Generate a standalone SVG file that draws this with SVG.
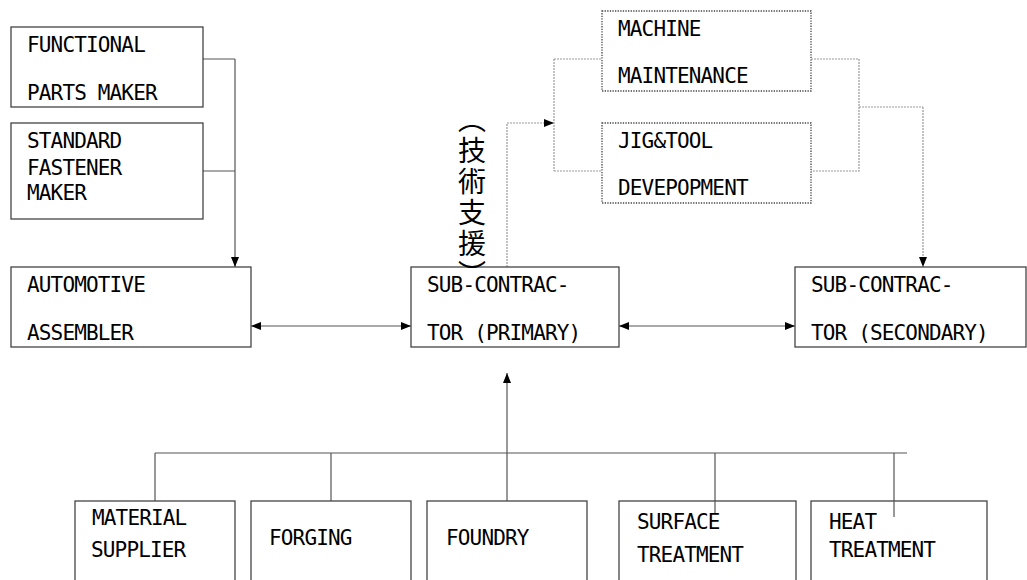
<svg xmlns="http://www.w3.org/2000/svg" width="1027" height="580" viewBox="0 0 1027 580">
<defs>
<style>
.box{fill:#fff;stroke:#444;stroke-width:1.3}
.dbox{fill:#fff;stroke:#444;stroke-width:1.3;stroke-dasharray:1.3 1.3}
.t{font-family:"DejaVu Sans Mono","Liberation Mono",monospace;font-size:21px;letter-spacing:-0.85px;fill:#000}
.ln{fill:none;stroke:#555;stroke-width:1.2}
.dl{fill:none;stroke:#999;stroke-width:1.2;stroke-dasharray:2 1}
.cjk{font-family:"Noto Sans CJK JP","Noto Sans CJK SC",sans-serif;font-size:28px;letter-spacing:3px;fill:#000}
</style>
<marker id="ah" viewBox="0 0 10 8" refX="10" refY="4" markerWidth="10" markerHeight="8" markerUnits="userSpaceOnUse" orient="auto-start-reverse">
<path d="M0,0 L10,4 L0,8 z" fill="#000"/>
</marker>
</defs>
<rect width="1027" height="580" fill="#fff"/>

<g id="connectors">
<path class="ln" d="M203,59 H235 M203,171 H235"/>
<path class="ln" d="M235,59 V267" marker-end="url(#ah)"/>
<path class="ln" d="M251,326 H411" marker-start="url(#ah)" marker-end="url(#ah)"/>
<path class="ln" d="M619,326 H795" marker-start="url(#ah)" marker-end="url(#ah)"/>
<path class="dl" d="M507,267 V123 H554" marker-end="url(#ah)"/>
<path class="dl" d="M554,59 V171 M554,59 H602 M554,171 H602"/>
<path class="dl" d="M811,59 H859 V171 H811 M859,107 H923"/>
<path class="dl" d="M923,107 V267" marker-end="url(#ah)"/>
<path class="ln" d="M507,453 V373" marker-end="url(#ah)"/>
<path class="ln" d="M155,453 H907 M155,453 V501 M331,453 V501 M507,453 V501 M715,453 V513 M894,453 V517"/>
</g>

<g id="functional">
<rect class="box" x="11" y="27" width="192" height="80"/>
<text class="t" x="27" y="52">FUNCTIONAL</text>
<text class="t" x="27" y="100">PARTS MAKER</text>
</g>
<g id="standard">
<rect class="box" x="11" y="123" width="192" height="96"/>
<text class="t" x="27" y="148">STANDARD</text>
<text class="t" x="27" y="175">FASTENER</text>
<text class="t" x="27" y="200">MAKER</text>
</g>
<g id="automotive">
<rect class="box" x="11" y="267" width="240" height="80"/>
<text class="t" x="27" y="292">AUTOMOTIVE</text>
<text class="t" x="27" y="340">ASSEMBLER</text>
</g>
<g id="primary">
<rect class="box" x="411" y="267" width="208" height="80"/>
<text class="t" x="427" y="292">SUB-CONTRAC-</text>
<text class="t" x="427" y="340">TOR (PRIMARY)</text>
</g>
<g id="secondary">
<rect class="box" x="795" y="267" width="231" height="80"/>
<text class="t" x="811" y="292">SUB-CONTRAC-</text>
<text class="t" x="811" y="340">TOR (SECONDARY)</text>
</g>
<g id="machine">
<rect class="dbox" x="602" y="11" width="209" height="80"/>
<text class="t" x="618" y="36">MACHINE</text>
<text class="t" x="618" y="83">MAINTENANCE</text>
</g>
<g id="jig">
<rect class="dbox" x="602" y="123" width="209" height="80"/>
<text class="t" x="618" y="148">JIG&amp;TOOL</text>
<text class="t" x="618" y="195">DEVEPOPMENT</text>
</g>
<g id="tech-label">
<text class="cjk" x="472" y="105" writing-mode="vertical-rl">（技術支援）</text>
</g>
<g id="material">
<rect class="box" x="75" y="501" width="160" height="90"/>
<text class="t" x="92" y="525">MATERIAL</text>
<text class="t" x="91" y="557">SUPPLIER</text>
</g>
<g id="forging">
<rect class="box" x="251" y="501" width="160" height="90"/>
<text class="t" x="269" y="545">FORGING</text>
</g>
<g id="foundry">
<rect class="box" x="427" y="501" width="160" height="90"/>
<text class="t" x="446" y="545">FOUNDRY</text>
</g>
<g id="surface">
<rect class="box" x="619" y="501" width="177" height="90"/>
<text class="t" x="637" y="529">SURFACE</text>
<text class="t" x="637" y="562">TREATMENT</text>
</g>
<g id="heat">
<rect class="box" x="811" y="501" width="176" height="90"/>
<text class="t" x="829" y="529">HEAT</text>
<text class="t" x="829" y="557">TREATMENT</text>
</g>
<path class="ln" d="M715,501 V513 M894,501 V517"/>
</svg>
